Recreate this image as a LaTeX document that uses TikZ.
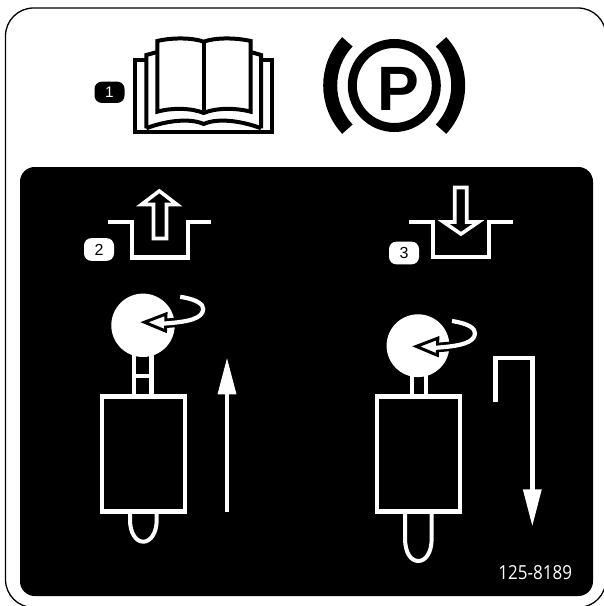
\documentclass[tikz,border=0pt]{standalone}
\usepackage{fontspec}
\setmainfont{Liberation Sans}
\newfontfamily\labelfont{Open Sans}
\tikzset{
  px/.style={line width=#1*0.75pt},
  wline/.style={draw=white,px=4.4,line cap=butt,line join=miter,miter limit=10},
  bline/.style={draw=black,px=4,line join=miter,miter limit=10},
  badgeb/.style={fill=black,text=white,rounded corners=5.5pt,minimum width=22.5pt,minimum height=16pt,inner sep=0pt,font=\fontsize{11.5}{11.5}\selectfont},
  badgew/.style={fill=white,text=black,rounded corners=5.5pt,minimum width=22.5pt,minimum height=17pt,inner sep=0pt,font=\fontsize{12}{12}\selectfont},
}
\newcommand{\knobarrow}[2]{%
  \begin{scope}[shift={(#1,#2)}]
    \draw[black,px=9.5] (61.7,-12.3) .. controls (61,-3) and (48,0.5) .. (20,2);
    \draw[black,px=3,fill=white,line join=miter,miter limit=10] (3,0.7) -- (24.5,-7.5) -- (24,9.5) -- cycle;
    \draw[white,px=4.2] (38.7,-24.7) .. controls (56,-22) and (62,-17) .. (61.7,-12.3) .. controls (61,-3) and (48,0.5) .. (20,2.2);
  \end{scope}}
\begin{document}
\begin{tikzpicture}[x=0.75pt,y=-0.75pt]
\useasboundingbox (0,0) rectangle (603,606);
\fill[white] (0,0) rectangle (603,606);
% frame and panel
\draw[black,px=1.3,rounded corners=21pt] (5.5,8) rectangle (606,607.5);
\fill[black,rounded corners=11pt] (20,167) rectangle (593,596);
% book
\begin{scope}[bline,fill=white]
  \draw (146.3,60.3) -- (135.3,60.3) -- (135.3,132) -- (272,132) -- (272,60.3) -- (261,60.3);
  \draw (146.3,128.3) -- (146.3,55) -- (157.3,52);
  \draw (250.7,52) -- (261,55) -- (261,128.3);
  \draw (146.3,128.3) .. controls (162,122) and (188,117) .. (203.7,124) .. controls (219,117) and (245,122) .. (261,128.3);
  \draw (157.3,111.7) .. controls (172,107.5) and (192,108) .. (203.7,113) .. controls (215,108) and (235,107.5) .. (250.7,111.7) -- (250.7,41) .. controls (235,37.5) and (215,37.5) .. (203.7,41.7) .. controls (192,37.5) and (172,37.5) .. (157.3,41) -- cycle;
  \draw (203.7,41.7) -- (203.7,113);
\end{scope}
\node[badgeb] (b1) at (109.5,92.3) {1};
% park symbol
\draw[black,px=9] (394.3,85.5) circle[radius=42];
\node[inner sep=0pt,font=\fontsize{47}{47}\selectfont\bfseries] (p) at (398.8,88.8) {P};
\draw[black,px=14] (394.2,85.5) ++(137:64) arc[start angle=137,end angle=223,radius=64];
\draw[black,px=14] (394.2,85.5) ++(43:64) arc[start angle=43,end angle=-43,radius=64];
% tray 2
\draw[wline] (108.3,221.7) -- (131.7,221.7) -- (131.7,257.3) -- (187.7,257.3) -- (187.7,221.7) -- (211,221.7);
\draw[white,px=3.6,miter limit=10] (159.3,191) -- (177,204.5) -- (166.5,204.5) -- (166.5,238.5) -- (153.5,238.5) -- (153.5,204.5) -- (141.5,204.5) -- cycle;
\node[badgew] (b2) at (99,249.5) {2};
% tray 3
\draw[wline] (409.3,221.7) -- (432.7,221.7) -- (432.7,256.7) -- (489,256.7) -- (489,221.7) -- (512.7,221.7);
\draw[white,px=3.6,miter limit=10] (461,234) -- (443.5,222) -- (454.7,222) -- (454.7,187.5) -- (466.7,187.5) -- (466.7,222) -- (478.5,222) -- cycle;
\node[badgew] (b3) at (404,253) {3};
% left actuator
\draw[wline] (133.8,350) -- (133.8,396) (151.3,350) -- (151.3,396) (133.8,376) -- (151.3,376);
\fill[white] (143,325.3) circle[radius=31.7];
\knobarrow{141.5}{321.5}
\draw[wline] (102,396.3) rectangle (184.7,511.3);
\draw[white,px=4] (130,512) -- (130,520) .. controls (130,533) and (136,541.7) .. (143.3,541.7) .. controls (150.5,541.7) and (156.7,533) .. (156.7,520) -- (156.7,512);
\draw[wline] (227,511.7) -- (227,392);
\fill[white] (227,358.3) -- (236.5,394.3) -- (217.5,394.3) -- cycle;
% right actuator
\draw[wline] (411.7,372) -- (411.7,396) (426,372) -- (426,396);
\fill[white] (418,345.7) circle[radius=31.4];
\knobarrow{413.3}{345.7}
\draw[wline] (377,396.3) rectangle (459.7,511.3);
\draw[white,px=4] (405,512) -- (405,538) .. controls (405,553) and (411,561) .. (418.3,561) .. controls (425.5,561) and (431.7,553) .. (431.7,538) -- (431.7,512);
\draw[wline] (495.6,401.7) -- (495.6,358) -- (532.3,358) -- (532.3,492);
\fill[white] (532.3,525.7) -- (541.8,489.3) -- (522.8,489.3) -- cycle;
% part number
\node[text=white,inner sep=0pt,font=\labelfont\fontsize{14.5}{15}\selectfont,xscale=0.88] (num) at (535.2,573) {125-8189};
\end{tikzpicture}
\end{document}
